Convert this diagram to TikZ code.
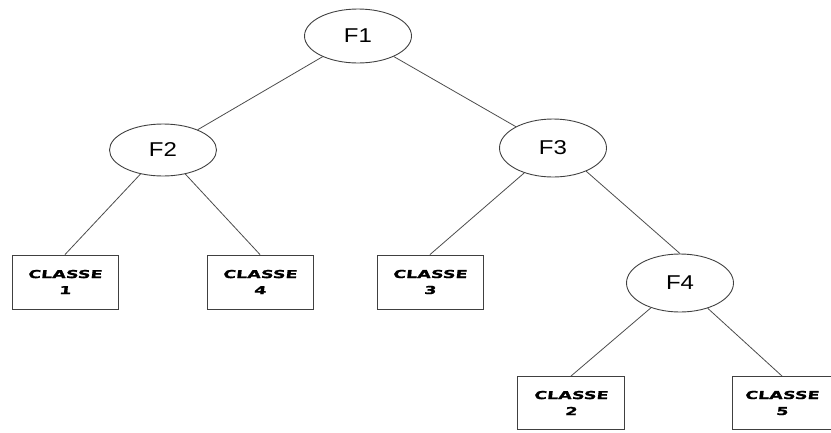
\documentclass[tikz,border=0pt]{standalone}
\usepackage{fontspec}
\setmainfont{Liberation Sans}
\newfontfamily\labelfont[FakeStretch=1.2]{Liberation Sans}
\newfontfamily\classfont[FakeStretch=1.6,FakeSlant=0.12,FakeBold=1.2]{DejaVu Sans Bold}
\usetikzlibrary{shapes.geometric}
\begin{document}
\begin{tikzpicture}[x=1pt,y=-1pt,
  test/.style={ellipse,draw=black!75,line width=0.9pt,minimum width=107pt,minimum height=54pt,inner sep=0pt,font=\labelfont\fontsize{20}{20}\selectfont},
  leaf/.style={rectangle,draw=black!75,line width=0.9pt,minimum width=106pt,minimum height=54pt,inner sep=0pt,align=center,font=\classfont\fontsize{11}{16}\selectfont},
  edge/.style={draw=black!70,line width=0.8pt}]
  \useasboundingbox (0,0) rectangle (831,432);
  % decision nodes
  \node[test] (f1) at (358,36) {F1};
  \node[test,minimum height=52pt] (f2) at (163,150) {F2};
  \node[test,minimum height=58pt] (f3) at (553,148) {F3};
  \node[test,minimum height=58pt] (f4) at (680,283) {F4};
  % leaves
  \node[leaf] (c1) at (65,282) {CLASSE\\1};
  \node[leaf] (c4) at (260,282) {CLASSE\\4};
  \node[leaf] (c3) at (430,282) {CLASSE\\3};
  \node[leaf,minimum width=107pt,minimum height=53pt] (c2) at (571,403) {CLASSE\\2};
  \node[leaf,minimum width=100pt,minimum height=53pt] (c5) at (782,403) {CLASSE\\5};
  % branches
  \draw[edge] (f1) -- (f2);
  \draw[edge] (f1) -- (f3);
  \draw[edge] (f2) -- (c1.north);
  \draw[edge] (f2) -- (c4.north);
  \draw[edge] (f3) -- (c3.north);
  \draw[edge] (f3.-35) -- (f4.north);
  \draw[edge] (f4) -- (c2.north);
  \draw[edge] (f4) -- (c5.north);
\end{tikzpicture}
\end{document}
